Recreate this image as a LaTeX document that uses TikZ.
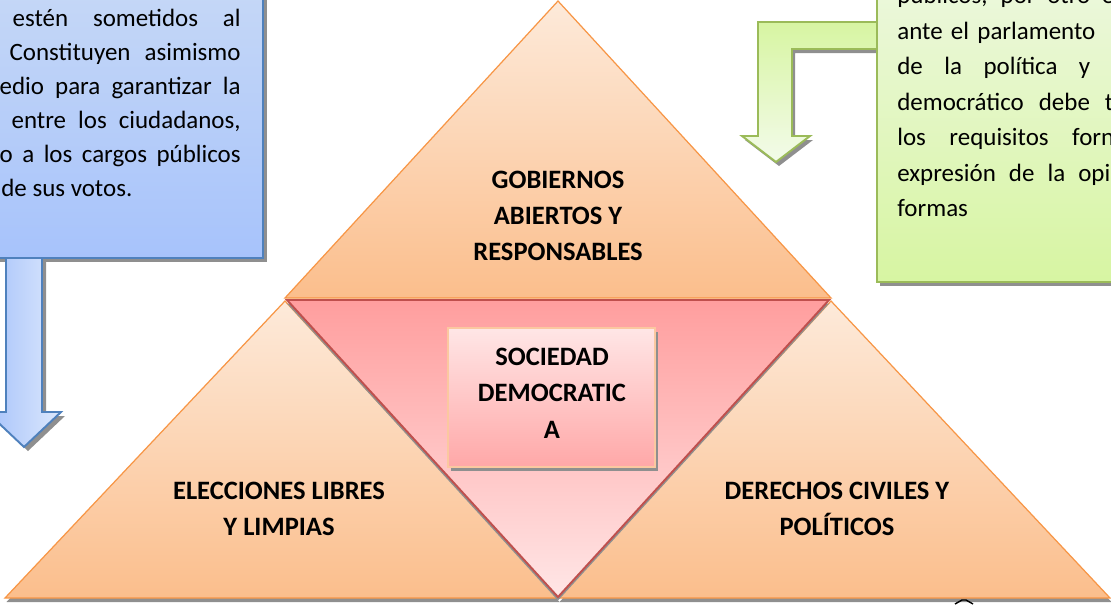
\documentclass[tikz,border=0pt]{standalone}
\usepackage{fontspec}
\setmainfont{Carlito}

\definecolor{naranjaborde}{HTML}{F79646}
\definecolor{naranjaclaro}{HTML}{FDEADA}
\definecolor{naranjafuerte}{HTML}{FBBE8C}
\definecolor{rosaborde}{HTML}{C0504D}
\definecolor{rosafuerte}{HTML}{FF9E9E}
\definecolor{rosaclaro}{HTML}{FFE6E6}
\definecolor{cajaborde}{HTML}{FBC8A0}
\definecolor{azulborde}{HTML}{4F81BD}
\definecolor{azulclaro}{HTML}{C9DAF6}
\definecolor{azulfuerte}{HTML}{A7C3FB}
\definecolor{azulflecha}{HTML}{DCE8FC}
\definecolor{verdeborde}{HTML}{9BBB59}
\definecolor{verdeclaro}{HTML}{EEF8E2}
\definecolor{verdefuerte}{HTML}{D7F5A2}
\definecolor{verdeflecha}{HTML}{F3FBEA}
\definecolor{sombragris}{HTML}{8F8F8F}

\tikzset{
	naranja/.style={draw=naranjaborde, line width=0.7pt, top color=naranjaclaro, bottom color=naranjafuerte},
	sombra/.style={fill=sombragris, draw=none},
	etiqueta/.style={font=\bfseries\fontsize{15.1}{20.7}\selectfont, align=center, inner sep=0pt},
	texto/.style={font=\fontsize{14.2}{19}\selectfont, inner sep=0pt},
}

\begin{document}
\begin{tikzpicture}
			\useasboundingbox (0,0) rectangle (22.22,12.08);
			\clip (0,0) rectangle (22.22,12.08);
			
			% cuadro azul y su flecha
			\fill[sombra, shift={(0.08,-0.08)}] (-1,6.92) rectangle (5.26,13);
			\draw[draw=azulborde, line width=1.1pt, top color=azulclaro, bottom color=azulfuerte] (-1,6.92) rectangle (5.26,13);
			\fill[sombra, shift={(0.08,-0.08)}] (0.12,6.92) -- (0.84,6.92) -- (0.84,3.84) -- (1.22,3.84) -- (0.48,3.14) -- (-0.26,3.84) -- (0.12,3.84) -- cycle;
			\draw[draw=azulborde, line width=1.1pt, left color=azulfuerte, right color=azulflecha] 
				(0.12,6.92) -- (0.84,6.92) -- (0.84,3.84) -- (1.22,3.84) -- (0.48,3.14) -- (-0.26,3.84) -- (0.12,3.84) -- cycle;
			
			\node[texto, anchor=base east] (azul1) at (4.82,11.56) {\makebox[4.56cm][s]{estén sometidos al}};
			\node[texto, anchor=base east] (azul2) at (4.82,10.88) {\makebox[4.62cm][s]{Constituyen asimismo}};
			\node[texto, anchor=base east] (azul3) at (4.82,10.20) {\makebox[4.82cm][s]{edio para garantizar la}};
			\node[texto, anchor=base east] (azul4) at (4.82,9.52) {\makebox[4.58cm][s]{entre los ciudadanos,}};
			\node[texto, anchor=base east] (azul5) at (4.82,8.84) {\makebox[4.82cm][s]{o a los cargos públicos}};
			\node[texto, anchor=base west] (azul6) at (0.02,8.16) {de sus votos.};
			
			% flecha verde y su cuadro
			\fill[sombra, shift={(0.06,-0.08)}] (17.54,11.64) -- (15.16,11.64) -- (15.16,9.36) -- (14.84,9.36) -- (15.52,8.84) -- (16.20,9.36) -- (15.84,9.36) -- (15.84,11.10) -- (17.54,11.10) -- cycle;
			\draw[draw=verdeborde, line width=1.1pt, top color=verdefuerte, bottom color=verdeflecha] 
				(17.54,11.64) -- (15.16,11.64) -- (15.16,9.36) -- (14.84,9.36) -- (15.52,8.84) -- (16.20,9.36) -- (15.84,9.36) -- (15.84,11.10) -- (17.54,11.10) -- cycle;
			\fill[sombra, shift={(0.06,-0.08)}] (17.54,6.44) rectangle (23,13);
			\draw[draw=verdeborde, line width=1.1pt, top color=verdeclaro, bottom color=verdefuerte] (17.54,6.44) rectangle (23,13);
			
			\node[texto, anchor=base west] (verde0) at (17.94,12.02) {\makebox[4.34cm][s]{públicos, por otro e}};
			\node[texto, anchor=base west] (verde1) at (17.94,11.30) {\makebox[3.96cm][s]{ante el parlamento}};
			\node[texto, anchor=base west] (verde2) at (17.94,10.59) {\makebox[3.86cm][s]{de la política y}};
			\node[texto, anchor=base west] (verde3) at (17.94,9.88) {\makebox[4.32cm][s]{democrático debe t}};
			\node[texto, anchor=base west] (verde4) at (17.94,9.17) {\makebox[4.34cm][s]{los requisitos forn}};
			\node[texto, anchor=base west] (verde5) at (17.94,8.46) {\makebox[4.26cm][s]{expresión de la opi}};
			\node[texto, anchor=base west] (verde6) at (17.94,7.75) {formas};
			
			% triangulos
			\fill[sombra, shift={(0.03,-0.08)}] (0.10,0.12) -- (5.70,6.06) -- (11.16,0.12) -- cycle;
			\fill[sombra, shift={(0.03,-0.08)}] (11.16,0.12) -- (16.62,6.06) -- (22.20,0.12) -- cycle;
			\draw[naranja] (11.16,12.06) -- (16.62,6.12) -- (5.70,6.12) -- cycle;
			\draw[naranja] (0.10,0.12) -- (5.70,6.06) -- (11.16,0.12) -- cycle;
			\draw[naranja] (11.16,0.12) -- (16.62,6.06) -- (22.20,0.12) -- cycle;
			
			\fill[sombra, shift={(0,-0.07)}] (5.74,6.08) -- (16.58,6.08) -- (11.16,0.14) -- cycle;
			\draw[draw=rosaborde, line width=1.1pt, top color=rosafuerte, bottom color=rosaclaro] 
				(5.74,6.08) -- (16.58,6.08) -- (11.16,0.14) -- cycle;
			
			% cuadro central
			\fill[sombra, shift={(0.06,-0.08)}] (8.96,2.74) rectangle (13.10,5.52);
			\draw[draw=cajaborde, line width=0.8pt, top color=rosaclaro, bottom color=rosafuerte!90] (8.96,2.74) rectangle (13.10,5.52);
			
			\node[etiqueta] (gobiernos) at (11.16,7.76) {GOBIERNOS\\ABIERTOS Y\\RESPONSABLES};
			\node[etiqueta] (sociedad) at (11.04,4.22) {SOCIEDAD\\DEMOCRATIC\\A};
			\node[etiqueta] (elecciones) at (5.58,1.90) {ELECCIONES LIBRES\\Y LIMPIAS};
			\node[etiqueta] (derechos) at (16.74,1.90) {DERECHOS CIVILES Y\\POLÍTICOS};
			
			\draw[black, line width=0.8pt] (19.10,0) -- (19.24,0.08) -- (19.32,0.08) -- (19.46,0);
		
		\end{tikzpicture}
\end{document}
